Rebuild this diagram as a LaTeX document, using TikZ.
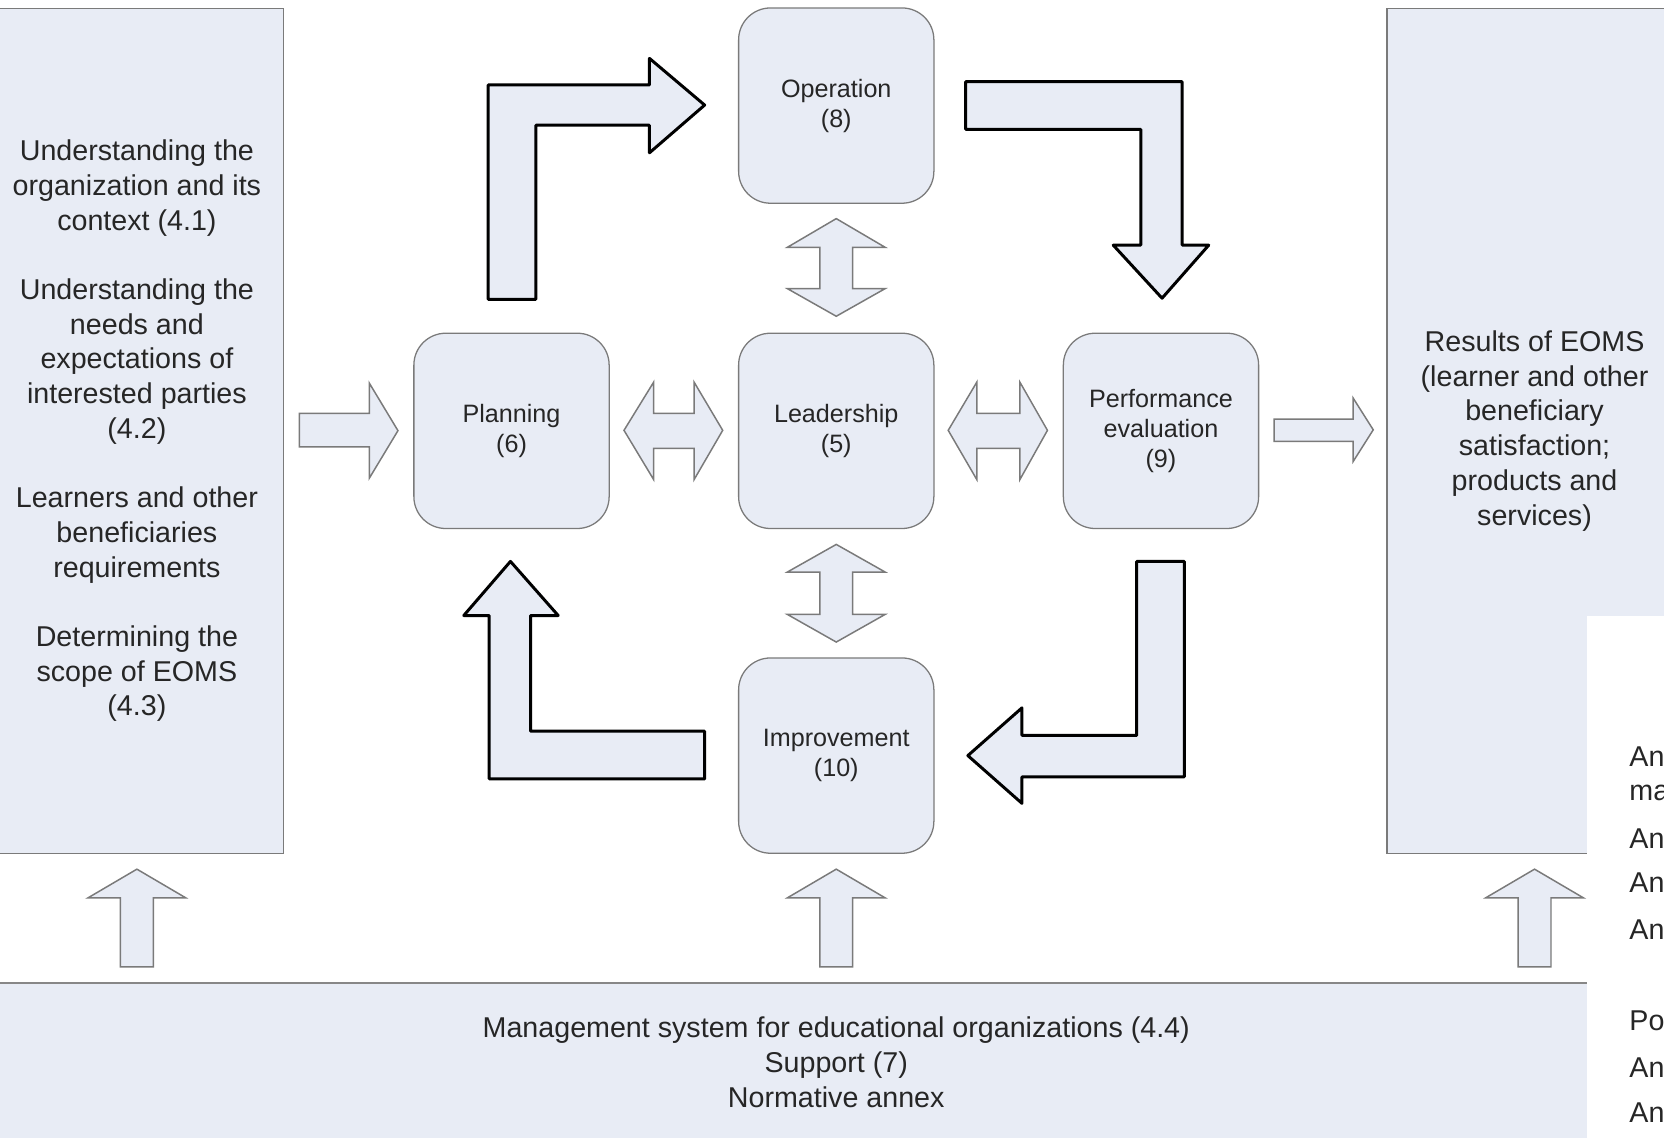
\documentclass[tikz,border=0pt]{standalone}
\usepackage{fontspec}
\setmainfont{Liberation Sans}
\definecolor{boxfill}{HTML}{E8ECF5}
\definecolor{boxline}{HTML}{7A7A7A}
\definecolor{txt}{HTML}{262626}
\tikzset{
  bigtext/.style={font=\fontsize{13.5}{16.35}\selectfont, text=txt, align=center},
  smalltext/.style={font=\fontsize{11.85}{14.1}\selectfont, text=txt, align=center},
  panelbox/.style={draw=boxline, line width=0.6pt, fill=boxfill, inner sep=0pt},
  roundbox/.style={panelbox, rounded corners=15pt, minimum width=92pt, minimum height=92pt, smalltext},
  thickarrow/.style={draw=black, line width=1.4pt, fill=boxfill, line join=round},
  thinarrow/.style={draw=boxline, line width=0.7pt, fill=boxfill, line join=miter},
  paneltext/.style={font=\fontsize{13.5}{16.35}\selectfont, text=txt, anchor=west, inner sep=0pt}
}
\begin{document}
\begin{tikzpicture}[x=0.5pt, y=-0.5pt]
\useasboundingbox (0,0) rectangle (1568,1072);
% side panels and band
\node[panelbox, bigtext, minimum width=138pt, minimum height=398pt] (ctx) at (129,406)
  {Understanding the\\organization and its\\context (4.1)\\[16.35pt]
   Understanding the\\needs and\\expectations of\\interested parties\\(4.2)\\[16.35pt]
   Learners and other\\beneficiaries\\requirements\\[16.35pt]
   Determining the\\scope of EOMS\\(4.3)};
\node[panelbox, bigtext, minimum width=139pt, minimum height=398pt] (res) at (1446,406)
  {Results of EOMS\\(learner and other\\beneficiary\\satisfaction;\\products and\\services)};
\node[panelbox, bigtext, draw=boxline!90, line width=1pt, minimum width=797pt, minimum height=75pt] (band) at (788,1001)
  {Management system for educational organizations (4.4)\\Support (7)\\Normative annex};
% white panel at right
\fill[white] (1495,580) rectangle (1580,1080);
\coordinate (pnl) at (1535,0);
\node[paneltext] (p1) at (1535,713) {An};
\node[paneltext] (p2) at (1535,747) {ma};
\node[paneltext] (p3) at (1535,790) {An};
\node[paneltext] (p4) at (1535,832) {An};
\node[paneltext] (p5) at (1535,876) {An};
\node[paneltext] (p6) at (1535,962) {Po};
\node[paneltext] (p7) at (1535,1006) {An};
\node[paneltext] (p8) at (1535,1048) {An};
% rounded boxes
\node[roundbox] (op) at (788,99.5) {Operation\\(8)};
\node[roundbox] (lead) at (788,406) {Leadership\\(5)};
\node[roundbox] (plan) at (482,406) {Planning\\(6)};
\node[roundbox] (perf) at (1094,406) {Performance\\evaluation\\(9)};
\node[roundbox] (imp) at (788,712) {Improvement\\(10)};
% thick L arrows
\draw[thickarrow] (460,282) -- (460,80) -- (612,80) -- (612,55) -- (664,99) -- (612,144) -- (612,118) -- (505,118) -- (505,282) -- cycle;
\draw[thickarrow] (910,77) -- (1114,77) -- (1114,231) -- (1139,231) -- (1095,281) -- (1049,231) -- (1075,231) -- (1075,122) -- (910,122) -- cycle;
\draw[thickarrow] (1071,529) -- (1116,529) -- (1116,732) -- (963,732) -- (963,757) -- (912,712) -- (963,667) -- (963,693) -- (1071,693) -- cycle;
\draw[thickarrow] (664,689) -- (664,734) -- (461,734) -- (461,580) -- (437,580) -- (481,529) -- (526,580) -- (500,580) -- (500,689) -- cycle;
% double arrows vertical
\draw[thinarrow] (788,206) -- (834,233) -- (803.5,233) -- (803.5,272) -- (834,272) -- (788,298) -- (742,272) -- (772.5,272) -- (772.5,233) -- (742,233) -- cycle;
\draw[thinarrow] (788,513) -- (834,539) -- (803.5,539) -- (803.5,579) -- (834,579) -- (788,605) -- (742,579) -- (772.5,579) -- (772.5,539) -- (742,539) -- cycle;
% double arrows horizontal
\draw[thinarrow] (588,405.5) -- (616,360) -- (616,389.5) -- (654,389.5) -- (654,360) -- (681,405.5) -- (654,452) -- (654,422.5) -- (616,422.5) -- (616,452) -- cycle;
\draw[thinarrow] (893.5,405.5) -- (920.5,360) -- (920.5,389.5) -- (961,389.5) -- (961,360) -- (987,405.5) -- (961,452) -- (961,422.5) -- (920.5,422.5) -- (920.5,452) -- cycle;
% single arrows
\draw[thinarrow] (282,389.5) -- (348,389.5) -- (348,361) -- (375,405.8) -- (348,450.6) -- (348,421) -- (282,421) -- cycle;
\draw[thinarrow] (1200.5,395) -- (1275,395) -- (1275,375) -- (1294,405) -- (1275,435) -- (1275,416) -- (1200.5,416) -- cycle;
% up arrows from band
\foreach \cx in {129,788,1446}{
  \draw[thinarrow] (\cx-15.5,911) -- (\cx-15.5,846) -- (\cx-46,846) -- (\cx,819) -- (\cx+46,846) -- (\cx+15.5,846) -- (\cx+15.5,911) -- cycle;
}
\end{tikzpicture}
\end{document}
